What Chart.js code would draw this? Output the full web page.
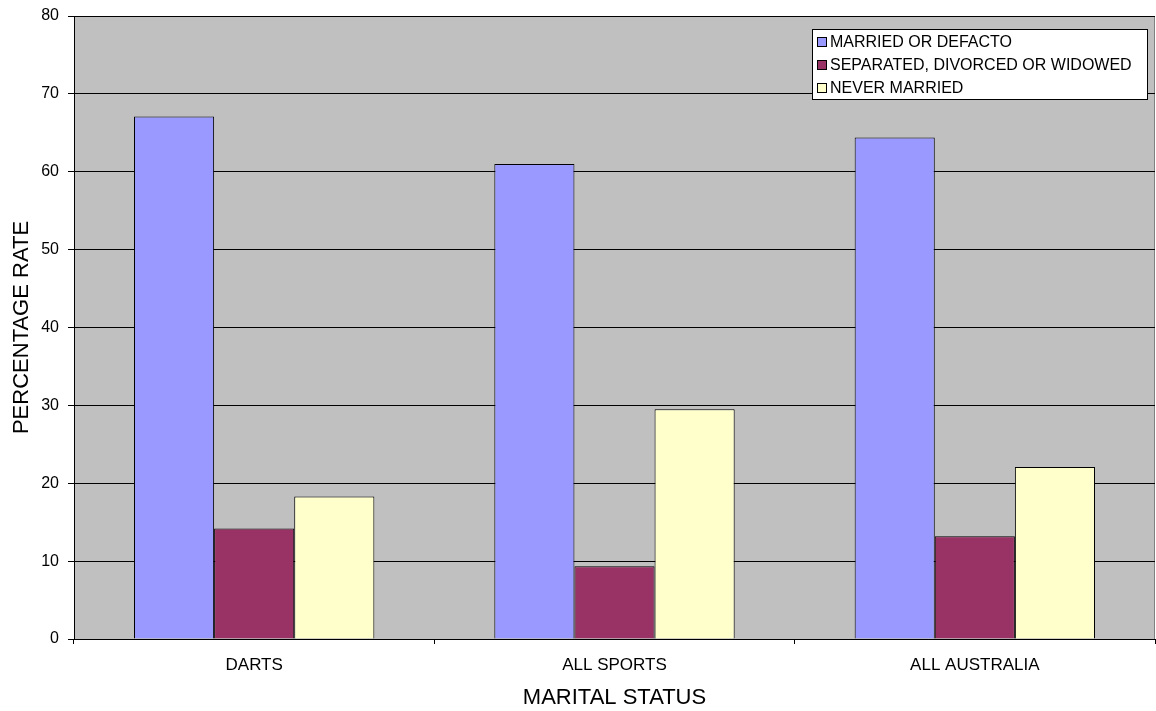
<!DOCTYPE html>
<html>
<head>
<meta charset="utf-8">
<script src="https://cdn.jsdelivr.net/npm/chart.js@4"></script>
<style>
  html, body { margin: 0; padding: 0; background: #fff; }
  #wrap { width: 1156px; height: 711px; }
</style>
</head>
<body>
<div id="wrap"><canvas id="myChart" width="1156" height="711"></canvas></div>
<script>
const categories = ['DARTS', 'ALL SPORTS', 'ALL AUSTRALIA'];
const married = [67.1, 61.0, 64.4];
const separated = [14.2, 9.35, 13.2];
const neverMarried = [18.3, 29.5, 22.1];
const yTicks = [0, 10, 20, 30, 40, 50, 60, 70, 80];

const FONT = "'Liberation Sans', Arial, sans-serif";

// grey plot area behind the bars
const plotBg = {
  id: 'plotBg',
  beforeDraw(chart) {
    const { ctx, chartArea: a } = chart;
    ctx.save();
    ctx.fillStyle = '#C0C0C0';
    ctx.fillRect(a.left, a.top, a.right - a.left, a.bottom - a.top);
    ctx.strokeStyle = '#808080';
    ctx.lineWidth = 1;
    ctx.strokeRect(a.left + 0.5, a.top + 0.5, a.right - a.left - 1, a.bottom - a.top);
    ctx.restore();
  }
};

// boxed legend sitting inside the plot, top right
const boxLegend = {
  id: 'boxLegend',
  afterDraw(chart) {
    const { ctx } = chart;
    const x = 812, y = 29, w = 335, h = 70;
    ctx.save();
    ctx.fillStyle = '#fff';
    ctx.fillRect(x, y, w, h);
    ctx.strokeStyle = '#000';
    ctx.lineWidth = 1;
    ctx.strokeRect(x + 0.5, y + 0.5, w, h);
    ctx.font = '16px ' + FONT;
    ctx.textBaseline = 'middle';
    chart.data.datasets.forEach((ds, i) => {
      const cy = y + 13 + i * 23;
      ctx.fillStyle = ds.backgroundColor;
      ctx.fillRect(x + 5, cy - 5, 10, 10);
      ctx.strokeStyle = '#000';
      ctx.strokeRect(x + 5.5, cy - 4.5, 9, 9);
      ctx.fillStyle = '#000';
      ctx.fillText(ds.label, x + 18, cy + 1);
    });
    ctx.restore();
  }
};

const ctx = document.getElementById('myChart').getContext('2d');

const data = {
  labels: categories,
  datasets: [
    {
      label: 'MARRIED OR DEFACTO',
      backgroundColor: '#9999FF',
      borderColor: '#000',
      borderWidth: 1,
      data: married
    },
    {
      label: 'SEPARATED, DIVORCED OR WIDOWED',
      backgroundColor: '#993366',
      borderColor: '#000',
      borderWidth: 1,
      data: separated
    },
    {
      label: 'NEVER MARRIED',
      backgroundColor: '#FFFFCC',
      borderColor: '#000',
      borderWidth: 1,
      data: neverMarried
    }
  ]
};

const config = {
  type: 'bar',
  data: data,
  options: {
    responsive: false,
    animation: false,
    layout: { padding: { left: 0, top: 16, right: 1, bottom: 0 } },
    plugins: {
      legend: { display: false },
      tooltip: { enabled: false }
    },
    datasets: {
      bar: { categoryPercentage: 0.667, barPercentage: 1.0 }
    },
    scales: {
      x: {
        offset: true,
        grid: {
          offset: true,
          drawOnChartArea: false,
          drawTicks: true,
          tickLength: 5,
          color: '#000'
        },
        border: { color: '#000' },
        ticks: {
          color: '#000',
          font: { family: FONT, size: 17 },
          padding: 11
        },
        title: {
          display: true,
          text: 'MARITAL STATUS',
          color: '#000',
          font: { family: FONT, size: 22 },
          padding: { top: 4, bottom: 0 }
        },
        afterFit: (s) => { s.height = 72; }
      },
      y: {
        min: 0,
        max: 80,
        afterBuildTicks: (s) => { s.ticks = yTicks.map(v => ({ value: v })); },
        grid: {
          color: '#000',
          tickLength: 6,
          drawTicks: true
        },
        border: { color: '#000' },
        ticks: {
          color: '#000',
          font: { family: FONT, size: 16 },
          padding: 9
        },
        title: {
          display: true,
          text: 'PERCENTAGE RATE',
          color: '#000',
          font: { family: FONT, size: 22 },
          padding: { top: 9, bottom: 4 }
        },
        afterFit: (s) => {
          s.width = 74;
          s.paddingTop = 0;
          s.paddingBottom = 0;
        }
      }
    }
  },
  plugins: [plotBg, boxLegend]
};

const myChart = new Chart(ctx, config);
</script>
</body>
</html>
